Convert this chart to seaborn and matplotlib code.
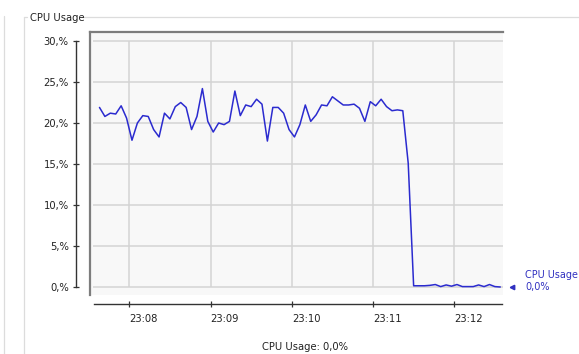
import numpy as np
import pandas as pd
import matplotlib
matplotlib.use("Agg")
import matplotlib.pyplot as plt
import matplotlib.dates as mdates
from matplotlib.lines import Line2D
import seaborn as sns

# CPU usage samples (%), one every 4 seconds starting at 23:07:38
cpu_usage = [
    21.9, 20.8, 21.2, 21.1, 22.1, 20.6, 17.9, 20.0, 20.9, 20.8,
    19.2, 18.3, 21.2, 20.5, 22.0, 22.5, 21.9, 19.2, 20.8, 24.2,
    20.2, 18.9, 20.0, 19.8, 20.2, 23.9, 20.9, 22.2, 22.0, 22.9,
    22.3, 17.8, 21.9, 21.9, 21.2, 19.2, 18.3, 19.8, 22.2, 20.2,
    21.0, 22.2, 22.1, 23.2, 22.7, 22.2, 22.2, 22.3, 21.8, 20.2,
    22.6, 22.1, 22.9, 22.0, 21.5, 21.6, 21.5, 15.1, 0.15, 0.15,
    0.15, 0.2, 0.3, 0.05, 0.25, 0.1, 0.3, 0.05, 0.05, 0.05,
    0.25, 0.05, 0.3, 0.05, 0.0,
]
start_time = "2024-01-01 23:07:38"
sample_seconds = 4

y_ticks = [0, 5, 10, 15, 20, 25, 30]
y_tick_labels = ["0,%", "5,%", "10,%", "15,%", "20,%", "25,%", "30,%"]
x_tick_times = ["23:08", "23:09", "23:10", "23:11", "23:12"]
series_name = "CPU Usage"

times = pd.date_range(start_time, periods=len(cpu_usage), freq=f"{sample_seconds}s")
df = pd.DataFrame({"time": times, "usage": cpu_usage})

day = "2024-01-01 "
x_ticks = [pd.Timestamp(day + t) for t in x_tick_times]
x_left = pd.Timestamp(day + "23:07:31")
x_right = pd.Timestamp(day + "23:12:36")
grid_left = pd.Timestamp(day + "23:07:33")
axis_left = pd.Timestamp(day + "23:07:34")
axis_right = pd.Timestamp(day + "23:12:35")
y_low, y_high = -0.854, 31.1

sns.set_style("white")
plt.rcParams["font.family"] = ["DejaVu Sans"]
FS = 7.2
W, H = 579, 354
fig = plt.figure(figsize=(W / 100, H / 100), dpi=100)
fig.patch.set_facecolor("white")


def rect(x0, y0, x1, y1):
    return [x0 / W, 1 - y1 / H, (x1 - x0) / W, (y1 - y0) / H]


# group box frame
frame_c = "#dcdcdc"
for xs, ys in [([24 / W, 27 / W], [1 - 17 / H] * 2),
               ([80 / W, 1.0], [1 - 17 / H] * 2),
               ([24 / W, 24 / W], [1 - 17 / H, 0]),
               ([4 / W, 4 / W], [1 - 16 / H, 0])]:
    fig.add_artist(Line2D(xs, ys, color=frame_c, lw=0.9))
fig.text(30 / W, 1 - 18 / H, series_name, fontsize=FS, ha="left", va="center", color="#222222")

# plot area
ax = fig.add_axes(rect(90, 32, 503, 295))
ax.set_facecolor("#f8f8f8")
for side in ["right", "bottom"]:
    ax.spines[side].set_visible(False)
for side in ["top", "left"]:
    ax.spines[side].set_color("#7d7d7d")
    ax.spines[side].set_linewidth(1.6)
ax.hlines(y_ticks, grid_left, x_right, color="#d4d4d4", lw=1.1, zorder=1)
ax.vlines(x_ticks, 0, 30, color="#d4d4d4", lw=1.1, zorder=1)
sns.lineplot(data=df, x="time", y="usage", ax=ax, color="#2b2bcf", lw=1.1, zorder=3)
ax.set_xlim(x_left, x_right)
ax.set_ylim(y_low - 1 / 8.2, y_high)
ax.set_xticks([])
ax.set_yticks([])
ax.set_xlabel("")
ax.set_ylabel("")

# separate value axis on the left
ax_y = fig.add_axes(rect(76, 32, 77, 295))
ax_y.patch.set_alpha(0)
ax_y.set_ylim(y_low - 1 / 8.2, y_high)
for side in ["right", "top", "bottom"]:
    ax_y.spines[side].set_visible(False)
ax_y.spines["left"].set_color("#333333")
ax_y.spines["left"].set_linewidth(1.0)
ax_y.spines["left"].set_bounds(0, 30)
ax_y.set_yticks(y_ticks)
ax_y.set_yticklabels(y_tick_labels)
ax_y.set_xticks([])
ax_y.tick_params(axis="y", left=True, direction="inout", length=5, width=0.9,
                 color="#333333", pad=2.8, labelsize=FS, labelcolor="#222222")

# separate time axis below
ax_x = fig.add_axes(rect(90, 303, 503, 304))
ax_x.patch.set_alpha(0)
ax_x.set_xlim(mdates.date2num(x_left), mdates.date2num(x_right))
for side in ["left", "right", "top"]:
    ax_x.spines[side].set_visible(False)
ax_x.spines["bottom"].set_color("#333333")
ax_x.spines["bottom"].set_linewidth(1.0)
ax_x.spines["bottom"].set_bounds(mdates.date2num(axis_left), mdates.date2num(axis_right))
ax_x.set_yticks([])
ax_x.set_xticks([mdates.date2num(t) for t in x_ticks])
ax_x.set_xticklabels(x_tick_times, ha="left")
ax_x.tick_params(axis="x", bottom=True, direction="inout", length=4, width=0.9,
                 color="#333333", pad=5.5, labelsize=FS, labelcolor="#222222")

# legend-style readout of the latest value
last_text = f"{cpu_usage[-1]:.1f}%".replace(".", ",")
blue = "#3030c0"
fig.add_artist(Line2D([512 / W], [1 - 286.5 / H], marker="<", markersize=3.2,
                      color=blue, linestyle="none"))
fig.text(525 / W, 1 - 275 / H, series_name, fontsize=6.9, color=blue, ha="left", va="center")
fig.text(525 / W, 1 - 287 / H, last_text, fontsize=6.9, color=blue, ha="left", va="center")

fig.text(305 / W, 1 - 347 / H, f"{series_name}: {last_text}", fontsize=FS,
         color="#222222", ha="center", va="center")

fig.savefig("out.png", dpi=100)
